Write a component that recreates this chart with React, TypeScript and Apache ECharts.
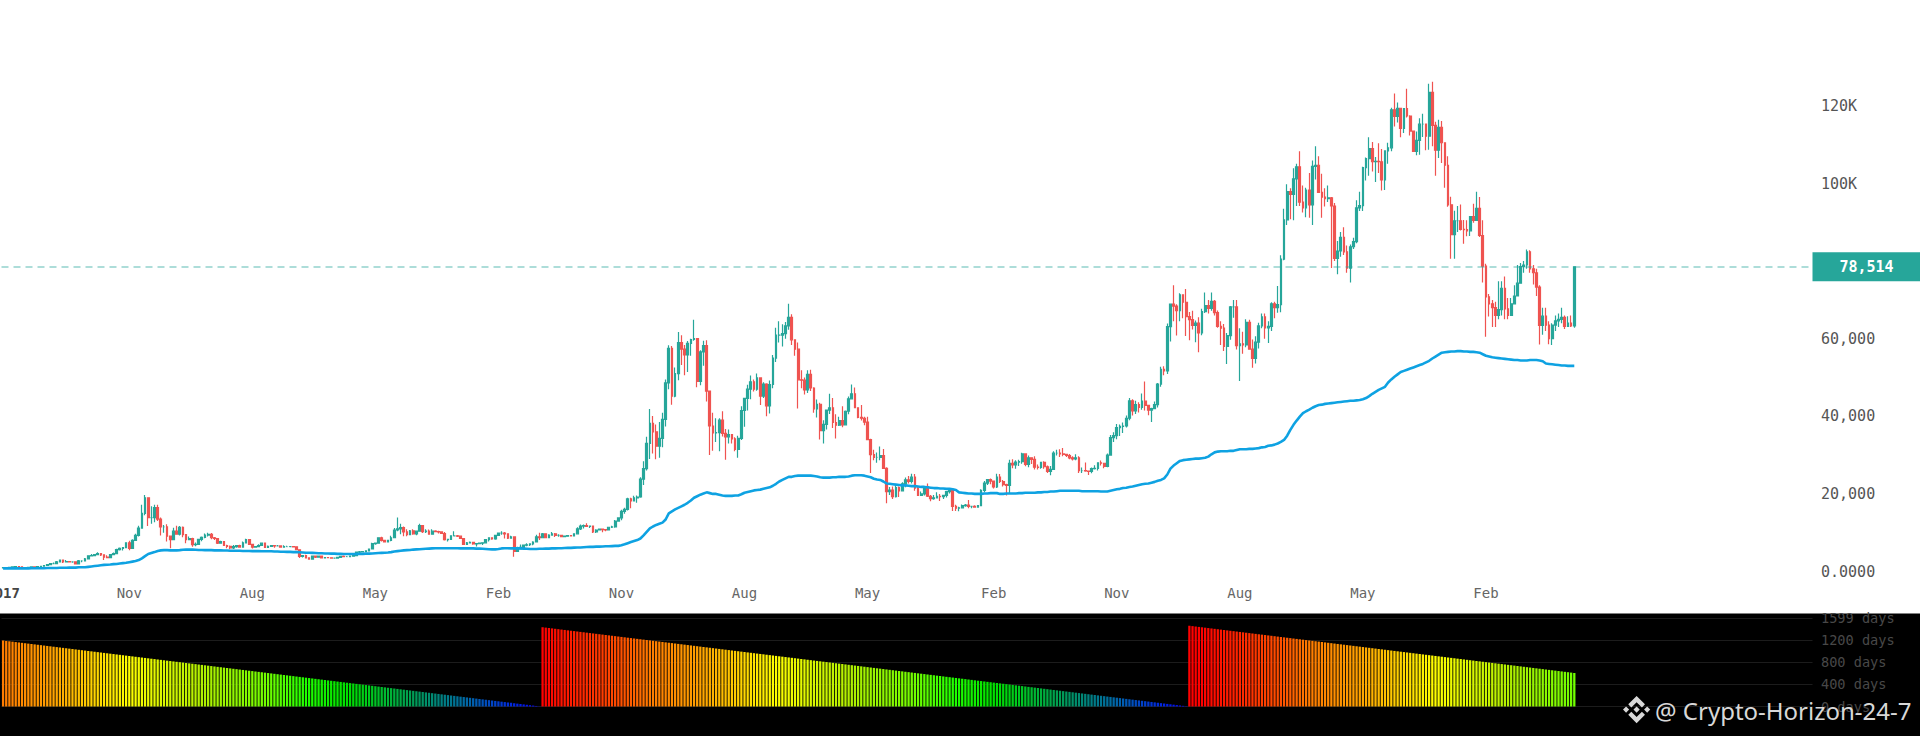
import React, { useEffect, useRef } from "react";
import * as echarts from "echarts";

// Weekly candles, values in thousands of USD.
const firstOpen = 0.96;
const weeklyClose = [
  1.01,1.00,1.05,1.17,1.27,1.23,1.00,0.97,1.07,1.19,
  1.17,1.24,1.35,1.55,1.75,2.05,2.05,2.50,2.95,2.50,
  2.55,2.50,2.50,1.95,2.75,2.75,3.25,4.05,4.10,4.35,
  4.60,4.30,3.70,3.60,4.35,4.60,5.65,5.98,6.15,7.40,
  5.95,8.00,9.30,11.2,15.0,19.0,13.9,13.9,16.5,13.5,
  11.5,11.5,9.10,8.20,10.4,9.60,11.4,9.50,8.20,8.50,
  6.90,7.00,8.30,8.80,9.40,9.60,8.70,8.50,7.30,7.70,
  6.70,6.50,6.10,6.40,6.70,6.30,7.40,8.20,7.00,6.30,
  6.40,6.70,7.30,6.20,6.50,6.70,6.60,6.60,6.30,6.40,
  6.40,6.40,6.35,5.60,3.90,4.10,3.50,3.20,4.00,3.70,
  4.00,3.50,3.60,3.55,3.45,3.45,3.65,3.90,3.85,3.85,
  3.95,4.10,5.00,5.05,5.10,5.30,5.80,7.20,7.30,8.70,
  8.00,7.60,8.00,8.70,10.7,11.0,11.3,10.2,9.50,10.5,
  9.70,10.4,11.8,10.3,10.4,9.60,10.4,10.3,10.2,9.80,
  8.20,8.30,9.20,9.20,9.10,8.50,7.00,7.40,7.50,7.10,
  7.20,7.30,7.40,8.20,8.70,8.40,9.30,9.90,9.90,9.70,
  8.60,8.90,5.20,5.80,6.20,6.80,6.90,7.10,7.60,8.90,
  8.70,9.70,8.70,9.40,9.70,9.30,9.30,9.00,9.10,9.25,
  9.20,9.70,11.0,11.7,11.85,11.6,11.7,10.2,10.7,10.9,
  10.8,10.7,11.4,11.5,13.0,13.8,15.5,16.0,18.7,18.2,
  19.0,19.2,23.8,26.5,33.0,38.2,36.0,32.3,34.3,39.2,
  48.6,57.5,45.2,51.0,59.0,57.3,55.8,58.8,59.8,60.0,
  49.0,56.6,58.2,46.5,37.5,35.7,35.8,39.0,35.6,34.7,
  35.3,34.2,31.5,34.3,41.5,44.6,47.0,48.9,47.0,49.9,
  45.2,48.3,42.7,48.2,55.0,60.9,60.9,61.3,63.3,65.5,
  59.7,57.3,49.4,49.3,46.8,50.8,47.3,41.9,43.1,36.3,
  37.9,41.6,42.2,38.4,37.7,38.9,37.8,41.3,44.5,45.8,
  42.2,39.7,39.5,38.5,34.0,30.1,29.4,29.4,29.9,26.6,
  20.6,21.0,19.3,21.6,20.8,22.6,23.6,23.2,24.3,21.5,
  19.6,20.0,21.8,19.4,18.8,19.0,19.4,19.3,19.6,20.6,
  20.9,16.8,16.3,16.4,17.0,17.1,16.8,16.8,16.6,17.0,
  20.9,22.8,23.7,23.3,21.8,24.3,23.2,22.4,22.2,27.9,
  27.5,28.2,28.3,30.3,27.6,29.3,28.9,26.9,26.8,28.1,
  27.0,25.8,26.3,30.5,30.5,30.3,30.2,29.9,29.3,29.0,
  29.3,26.0,26.0,25.9,25.8,26.5,26.6,28.0,27.9,27.1,
  30.0,34.5,35.0,37.1,37.4,37.5,39.5,44.0,41.4,43.0,
  42.3,43.9,42.8,41.6,42.0,43.0,48.3,52.1,51.7,63.1,
  68.9,68.4,67.2,71.3,69.4,65.7,64.9,63.4,64.0,61.5,
  67.0,68.5,67.8,69.6,66.7,63.2,62.7,58.0,60.8,68.2,
  68.2,58.2,58.7,58.4,64.2,57.3,54.9,59.1,63.3,65.6,
  62.8,63.2,69.0,68.0,68.8,80.5,90.6,97.9,97.2,101.2,
  104.3,95.2,93.7,98.3,94.5,104.4,104.7,97.7,96.5,96.1,
  96.3,94.2,80.7,82.6,86.1,82.4,78.2,83.7,85.0,93.7,
  94.3,104.1,106.4,109.0,105.6,105.7,105.6,100.9,108.4,109.2,
  119.0,117.3,119.4,114.2,119.3,117.4,113.5,108.3,111.1,115.3,
  115.3,112.2,123.5,115.0,108.6,114.5,110.5,104.7,94.5,86.8,
  90.4,90.4,88.2,88.1,87.8,91.5,90.5,93.6,86.6,78.7,
  70.8,69.0,68.0,66.0,67.5,73.0,67.7,66.0,69.0,71.0,
  74.3,78.6,79.0,82.4,78.0,77.0,73.3,63.4,65.8,63.5,
  60.0,63.5,64.6,65.0,65.5,63.2,64.0,63.3,78.514,
];
const weeklyHigh = [
  1.06,1.05,1.06,1.20,1.29,1.35,1.27,1.05,1.10,1.20,
  1.21,1.24,1.35,1.58,1.85,2.10,2.30,2.70,3.00,2.90,
  2.98,2.65,2.60,2.60,2.95,2.90,3.45,4.20,4.50,4.45,
  4.98,4.70,4.40,4.20,4.40,4.90,5.85,6.20,6.25,7.50,
  7.90,8.30,9.75,11.8,17.2,19.7,17.7,16.8,17.2,17.2,
  13.9,12.0,12.2,9.00,11.3,11.8,11.7,11.6,9.30,9.00,
  8.70,7.50,8.40,9.00,9.80,10.0,9.90,8.90,8.60,7.90,
  7.75,6.90,6.70,6.80,6.85,6.90,7.70,8.45,8.40,7.10,
  6.60,7.00,7.40,7.35,6.70,6.80,6.80,6.80,6.60,6.75,
  6.65,6.50,6.40,6.35,5.60,4.20,4.30,3.60,4.10,4.15,
  4.05,4.00,3.70,3.70,3.60,3.50,3.70,3.95,4.10,3.90,
  4.00,4.20,5.10,5.30,5.20,5.50,5.90,7.40,7.40,8.80,
  8.95,8.20,8.10,9.20,11.2,13.9,12.3,11.6,10.9,10.7,
  10.9,10.5,12.3,12.0,10.9,10.8,10.9,10.6,10.5,10.4,
  10.2,8.40,9.30,10.4,9.40,9.20,8.60,7.60,7.70,7.50,
  7.30,7.50,7.50,8.20,8.85,8.80,9.50,9.95,10.4,10.2,
  9.70,9.20,8.00,6.40,6.95,6.90,7.30,7.30,7.80,9.50,
  10.0,9.90,9.85,9.60,10.2,9.90,9.60,9.30,9.30,9.35,
  9.30,9.80,11.4,12.1,12.1,12.45,11.8,11.7,10.9,11.0,
  11.1,10.9,11.5,11.8,13.3,14.0,15.9,16.4,19.0,19.0,
  19.5,19.6,24.3,28.4,34.7,41.9,40.1,37.9,38.5,40.9,
  49.5,58.3,58.1,52.6,61.7,60.9,58.4,59.4,60.0,64.9,
  57.5,57.0,59.5,59.6,45.7,40.9,39.5,39.5,41.3,36.7,
  36.6,35.1,34.6,35.0,42.6,44.8,48.1,50.5,49.5,51.0,
  50.0,48.8,48.5,49.2,55.8,62.8,64.5,63.7,64.3,69.0,
  66.3,59.5,59.0,51.9,50.0,51.9,52.0,47.5,44.3,43.5,
  39.0,41.7,45.8,44.7,40.5,39.9,42.6,41.5,45.1,48.2,
  47.4,41.5,42.9,39.9,39.9,34.2,31.4,30.7,32.2,31.6,
  26.9,21.8,21.9,22.4,21.9,23.0,24.2,24.6,25.2,25.1,
  21.8,20.6,21.9,22.7,19.7,19.7,20.4,20.0,19.7,20.7,
  21.0,21.4,17.2,16.7,17.3,17.4,18.4,16.9,17.1,17.1,
  21.2,23.3,23.8,24.0,23.4,25.2,25.1,23.6,22.6,28.8,
  28.9,28.7,28.8,30.6,30.5,29.9,29.3,29.7,27.6,28.3,
  28.4,27.3,27.2,31.0,31.4,31.5,31.8,30.3,30.3,29.7,
  30.2,29.7,26.8,28.1,26.0,26.8,27.4,28.1,28.6,28.0,
  30.4,35.2,35.9,38.0,37.9,38.4,40.2,44.7,44.4,44.0,
  43.6,45.9,49.0,43.0,42.2,43.8,48.6,52.8,52.9,63.9,
  69.0,73.8,68.9,71.7,71.3,72.8,66.9,67.2,64.7,65.5,
  67.7,71.9,70.0,71.9,70.0,67.3,64.5,63.8,61.5,68.4,
  70.0,70.0,62.7,61.8,65.0,64.9,59.8,60.6,64.1,66.5,
  66.5,64.5,69.4,69.5,73.6,81.5,93.5,99.8,98.8,103.9,
  105.1,108.3,99.5,98.9,102.7,105.9,109.6,107.0,102.5,98.8,
  99.5,96.5,95.0,85.2,87.5,88.7,84.0,84.3,86.0,95.7,
  97.9,104.3,106.7,111.9,110.7,106.8,110.4,108.9,108.5,110.5,
  119.5,123.2,120.9,119.3,119.4,124.4,117.6,113.5,113.4,116.8,
  118.0,113.5,125.7,126.2,115.9,116.4,116.1,107.5,107.0,96.6,
  93.0,94.2,94.6,90.6,90.5,91.5,94.8,97.9,96.5,90.5,
  79.3,71.5,70.0,69.5,74.8,74.8,76.0,70.5,70.5,73.8,
  79.0,79.5,80.0,83.0,82.8,79.0,78.0,73.8,68.0,68.0,
  64.5,64.0,66.0,66.5,68.0,66.0,65.8,66.0,78.7,
];
const weeklyLow = [
  0.96,0.95,0.99,1.04,1.15,1.20,0.97,0.90,0.94,1.05,
  1.13,1.15,1.22,1.32,1.55,1.72,1.85,2.00,2.45,2.20,
  2.40,2.35,2.25,1.83,1.95,2.40,2.70,3.15,3.90,3.98,
  4.30,4.00,2.95,3.45,3.50,4.25,4.55,5.40,5.40,6.00,
  5.50,5.85,7.90,9.00,11.0,14.5,11.7,12.3,12.7,13.0,
  9.30,10.0,7.70,6.00,8.15,9.50,9.30,8.80,7.30,8.10,
  6.40,6.50,6.90,7.80,8.60,9.00,8.30,8.10,7.10,7.15,
  6.60,6.00,5.75,5.80,6.10,6.10,6.20,7.30,7.00,5.90,
  6.20,6.30,6.70,6.15,6.20,6.30,6.10,6.50,6.20,6.25,
  6.35,6.30,6.30,5.55,3.50,3.60,3.40,3.15,3.20,3.50,
  3.65,3.45,3.45,3.40,3.40,3.35,3.40,3.65,3.70,3.75,
  3.80,4.00,4.05,4.80,4.95,5.05,5.30,5.75,6.90,7.30,
  7.75,7.45,7.50,7.80,8.70,10.4,9.60,9.10,9.10,9.50,
  9.50,9.35,10.4,9.90,9.90,9.50,9.60,10.1,9.80,9.70,
  8.00,7.70,8.10,9.10,8.90,8.40,6.80,6.90,7.20,6.90,
  6.45,7.10,6.85,7.30,7.70,8.20,8.20,9.15,9.50,8.50,
  8.40,8.50,3.80,5.00,5.70,5.85,6.50,6.60,6.75,7.50,
  8.10,8.60,8.60,8.80,9.30,8.90,8.95,8.85,8.90,9.05,
  9.00,9.05,9.60,10.7,11.1,11.5,11.2,9.90,9.90,10.7,
  10.1,10.4,10.7,11.2,11.3,12.8,13.2,14.9,15.7,16.3,
  18.2,17.7,19.0,22.3,26.0,29.0,30.4,28.9,29.3,32.0,
  37.4,47.0,43.0,44.9,49.3,53.2,50.6,51.4,55.6,59.5,
  47.5,48.0,53.0,43.8,30.0,31.1,33.4,31.0,34.8,28.8,
  33.0,33.0,31.0,29.3,33.9,37.3,41.5,44.4,46.4,46.6,
  42.9,44.7,40.0,40.7,47.2,54.0,59.0,58.0,60.0,62.3,
  58.4,55.6,42.0,47.2,45.6,46.0,46.5,40.9,39.7,34.0,
  33.0,36.6,40.6,37.0,34.3,37.5,37.2,37.6,40.5,44.9,
  42.2,39.5,38.9,37.7,33.8,25.4,28.7,28.0,28.7,26.6,
  17.6,19.7,18.7,19.1,19.2,20.8,21.7,22.7,22.7,20.8,
  19.5,19.5,19.6,19.2,18.1,18.5,18.9,18.2,18.7,19.1,
  20.1,15.6,15.6,15.5,16.4,16.7,16.3,16.3,16.4,16.5,
  17.3,20.4,22.3,22.5,21.4,21.5,22.8,21.9,19.6,20.2,
  26.6,26.5,27.2,27.8,27.1,26.9,27.7,26.3,26.3,26.5,
  26.5,25.4,24.8,26.2,29.9,29.5,29.7,29.5,28.9,28.6,
  28.7,25.4,25.4,25.7,24.9,25.3,26.3,26.0,27.3,26.6,
  26.9,29.9,33.4,34.1,34.9,35.7,37.1,39.0,40.2,40.6,
  41.0,41.7,41.5,40.3,38.5,41.9,42.3,47.6,50.6,50.9,
  59.3,64.5,60.8,64.5,65.3,60.7,59.6,62.4,59.1,56.5,
  60.9,66.6,66.5,67.2,66.0,62.8,58.4,56.8,53.5,59.7,
  65.4,57.2,49.1,56.1,57.8,57.2,52.5,53.6,57.5,62.7,
  60.0,58.9,62.0,65.3,66.7,66.8,80.2,89.3,90.8,90.5,
  94.2,94.2,92.5,91.3,91.2,89.3,101.0,97.7,91.2,94.1,
  95.2,78.2,80.0,76.6,81.1,81.6,77.0,74.5,83.1,84.6,
  92.9,92.9,100.8,102.0,103.1,100.4,102.7,98.2,98.3,105.1,
  108.3,114.7,115.7,111.9,113.0,117.0,112.4,108.7,107.3,107.4,
  112.0,108.6,108.7,109.6,102.0,106.6,105.3,98.9,94.0,80.6,
  80.6,87.5,87.9,84.5,86.4,86.5,89.9,91.0,86.2,74.5,
  60.5,65.7,63.0,63.0,65.0,66.0,65.0,65.0,67.0,70.0,
  71.5,74.3,77.0,78.0,77.0,74.0,71.0,58.5,61.0,62.0,
  58.6,58.4,62.0,63.0,64.0,62.5,63.0,63.0,62.8,
];
const movingAverage = [
  0.8,0.8,0.8,0.8,0.8,0.8,0.8,0.8,0.8,0.85,
  0.85,0.85,0.85,0.85,0.9,0.9,0.9,0.9,0.95,0.95,
  0.95,1.0,1.0,1.0,1.1,1.1,1.1,1.2,1.3,1.4,
  1.5,1.6,1.7,1.75,1.8,1.9,1.95,2.05,2.15,2.25,
  2.4,2.55,2.7,2.95,3.4,3.95,4.5,4.75,5.0,5.3,
  5.45,5.5,5.5,5.45,5.45,5.45,5.5,5.6,5.65,5.65,
  5.65,5.6,5.55,5.55,5.5,5.5,5.5,5.45,5.45,5.45,
  5.4,5.4,5.35,5.35,5.35,5.35,5.3,5.3,5.3,5.25,
  5.25,5.25,5.2,5.2,5.2,5.2,5.15,5.15,5.1,5.1,
  5.05,5.05,5.0,5.0,4.95,4.9,4.85,4.85,4.8,4.75,
  4.7,4.7,4.65,4.65,4.6,4.6,4.55,4.55,4.5,4.5,
  4.5,4.5,4.5,4.55,4.55,4.6,4.6,4.65,4.7,4.75,
  4.8,4.85,4.9,5.0,5.15,5.25,5.35,5.45,5.5,5.55,
  5.65,5.7,5.75,5.8,5.85,5.9,5.95,6.0,6.0,6.0,
  6.0,6.0,6.0,6.0,6.0,5.95,5.95,5.95,5.95,5.95,
  5.9,5.9,5.85,5.8,5.75,5.7,5.7,5.8,5.95,6.0,
  6.0,5.95,5.95,5.95,5.95,5.9,5.85,5.8,5.8,5.8,
  5.85,5.85,5.9,5.9,5.95,5.95,6.0,6.0,6.05,6.1,
  6.1,6.15,6.2,6.2,6.25,6.3,6.35,6.35,6.4,6.4,
  6.45,6.5,6.5,6.55,6.6,6.6,6.75,7.0,7.3,7.6,
  7.85,8.1,8.5,9.3,10.2,11.1,11.6,12.0,12.3,12.6,
  13.4,15.0,15.5,16.0,16.4,16.8,17.2,17.7,18.3,19.0,
  19.4,19.8,20.1,20.4,20.2,20.0,20.0,19.8,19.6,19.5,
  19.5,19.5,19.6,19.6,19.9,20.3,20.5,20.7,20.9,21.0,
  21.1,21.3,21.5,21.7,22.1,22.6,23.2,23.6,24.0,24.4,
  24.4,24.6,24.7,24.7,24.7,24.7,24.7,24.6,24.5,24.3,
  24.2,24.2,24.2,24.3,24.3,24.4,24.4,24.4,24.5,24.7,
  24.8,24.8,24.8,24.7,24.5,24.3,23.9,23.7,23.6,23.2,
  22.7,22.6,22.5,22.4,22.3,22.2,22.2,22.1,22.0,22.0,
  21.9,21.8,21.8,21.7,21.6,21.5,21.5,21.4,21.4,21.3,
  21.3,21.2,21.0,20.4,20.3,20.2,20.1,20.1,20.0,20.0,
  20.0,20.1,20.1,20.2,20.2,20.2,20.0,20.0,20.1,20.1,
  20.1,20.1,20.2,20.2,20.3,20.3,20.3,20.3,20.4,20.4,
  20.5,20.5,20.6,20.6,20.7,20.8,20.8,20.8,20.8,20.8,
  20.8,20.8,20.7,20.7,20.7,20.7,20.7,20.7,20.6,20.6,
  20.6,20.8,21.0,21.2,21.3,21.5,21.6,21.8,21.9,22.1,
  22.3,22.5,22.6,22.7,22.9,23.1,23.4,23.6,24.0,25.0,
  26.5,27.3,27.9,28.5,28.7,28.8,28.9,29.0,29.1,29.1,
  29.2,29.3,29.6,30.2,30.7,30.9,31.0,31.0,31.0,31.1,
  31.1,31.3,31.5,31.5,31.5,31.6,31.6,31.7,31.8,32.0,
  32.1,32.4,32.5,32.7,33.0,33.4,33.9,35.0,36.5,37.8,
  38.9,39.9,40.8,41.3,41.7,42.2,42.6,42.9,43.0,43.2,
  43.3,43.4,43.5,43.6,43.7,43.8,43.9,44.0,44.0,44.1,
  44.2,44.4,44.7,45.2,45.8,46.3,46.8,47.2,47.6,48.7,
  49.5,50.2,50.8,51.4,51.7,52.0,52.3,52.6,52.9,53.2,
  53.5,53.9,54.3,54.9,55.4,55.9,56.4,56.5,56.6,56.7,
  56.7,56.8,56.8,56.7,56.7,56.6,56.6,56.5,56.4,56.0,
  55.6,55.4,55.2,55.1,55.0,54.9,54.8,54.7,54.6,54.5,
  54.5,54.4,54.4,54.4,54.5,54.5,54.5,54.4,54.2,53.6,
  53.5,53.4,53.3,53.2,53.1,53.1,53.0,53.0,53.0,
];
const daysToHalving = [
  1193,1186,1179,1172,1165,1158,1151,1144,1137,1130,
  1123,1116,1109,1102,1095,1088,1081,1074,1067,1060,
  1053,1046,1039,1032,1025,1018,1011,1004,997,990,
  983,976,969,962,955,948,941,934,927,920,
  913,906,899,892,885,878,871,864,857,850,
  843,836,829,822,815,808,801,794,787,780,
  773,766,759,752,745,738,731,724,717,710,
  703,696,689,682,675,668,661,654,647,640,
  633,626,619,612,605,598,591,584,577,570,
  563,556,549,542,535,528,521,514,507,500,
  493,486,479,472,465,458,451,444,437,430,
  423,416,409,402,395,388,381,374,367,360,
  353,346,339,332,325,318,311,304,297,290,
  283,276,269,262,255,248,241,234,227,220,
  213,206,199,192,185,178,171,164,157,150,
  143,136,129,122,115,108,101,94,87,80,
  73,66,59,52,45,38,31,24,17,10,3,
  1433,1426,1419,1412,1405,1398,1391,1384,1377,1370,
  1363,1356,1349,1342,1335,1328,1321,1314,1307,1300,
  1293,1286,1279,1272,1265,1258,1251,1244,1237,1230,
  1223,1216,1209,1202,1195,1188,1181,1174,1167,1160,
  1153,1146,1139,1132,1125,1118,1111,1104,1097,1090,
  1083,1076,1069,1062,1055,1048,1041,1034,1027,1020,
  1013,1006,999,992,985,978,971,964,957,950,
  943,936,929,922,915,908,901,894,887,880,
  873,866,859,852,845,838,831,824,817,810,
  803,796,789,782,775,768,761,754,747,740,
  733,726,719,712,705,698,691,684,677,670,
  663,656,649,642,635,628,621,614,607,600,
  593,586,579,572,565,558,551,544,537,530,
  523,516,509,502,495,488,481,474,467,460,
  453,446,439,432,425,418,411,404,397,390,
  383,376,369,362,355,348,341,334,327,320,
  313,306,299,292,285,278,271,264,257,250,
  243,236,229,222,215,208,201,194,187,180,
  173,166,159,152,145,138,131,124,117,110,
  103,96,89,82,75,68,61,54,47,40,
  33,26,19,12,5,
  1460,1453,1446,1439,1432,1425,1418,1411,1404,1397,
  1390,1383,1376,1369,1362,1355,1348,1341,1334,1327,
  1320,1313,1306,1299,1292,1285,1278,1271,1264,1257,
  1250,1243,1236,1229,1222,1215,1208,1201,1194,1187,
  1180,1173,1166,1159,1152,1145,1138,1131,1124,1117,
  1110,1103,1096,1089,1082,1075,1068,1061,1054,1047,
  1040,1033,1026,1019,1012,1005,998,991,984,977,
  970,963,956,949,942,935,928,921,914,907,
  900,893,886,879,872,865,858,851,844,837,
  830,823,816,809,802,795,788,781,774,767,
  760,753,746,739,732,725,718,711,704,697,
  690,683,676,669,662,655,648,641,634,627,
  620,613,606,
];

const totalSlots = 574;
const tickIndexes = [0, 40, 79, 118, 157, 196, 235, 274, 314, 353, 392, 431, 470];
const tickLabels = ["2017", "Nov", "Aug", "May", "Feb", "Nov", "Aug", "May", "Feb", "Nov", "Aug", "May", "Feb"];
const priceTicks: Record<number, string> = {
  0: "0.0000", 20000: "20,000", 40000: "40,000", 60000: "60,000", 80000: "", 100000: "100K", 120000: "120K", 140000: "",
};
const dayTicks: Record<number, string> = {
  0: "0 days", 400: "400 days", 800: "800 days", 1200: "1200 days", 1600: "1599 days",
};
const colorStops: [number, number[]][] = [
  [0, [0, 0, 255]], [150, [0, 96, 176]], [290, [0, 160, 80]], [430, [0, 224, 0]],
  [520, [32, 255, 0]], [606, [112, 255, 0]], [750, [176, 240, 0]], [914, [255, 255, 0]],
  [1088, [255, 160, 0]], [1193, [255, 124, 0]], [1257, [255, 80, 0]], [1433, [255, 0, 0]],
];
const UP = "#26a69a";
const DOWN = "#ef5350";
const MONO = "'DejaVu Sans Mono', monospace";
const BINANCE = "M38.73 53.2l24.59-24.58 24.6 24.6 14.3-14.31L63.32 0 24.42 38.9zM0 63.31l14.3-14.31 14.31 14.31-14.31 14.3zM38.73 73.41l24.59 24.59 24.6-24.6 14.31 14.29-38.9 38.91-38.91-38.88zM98 63.31l14.3-14.31 14.31 14.31-14.31 14.3zM77.83 63.3L63.32 48.78 52.59 59.51l-1.24 1.23-2.54 2.54 14.51 14.5 14.51-14.47z";

function dayColor(v: number): string {
  for (let k = 1; k < colorStops.length; k++) {
    if (v <= colorStops[k][0]) {
      const [a, ca] = colorStops[k - 1];
      const [b, cb] = colorStops[k];
      const t = (v - a) / (b - a);
      return `rgb(${ca.map((c, j) => Math.round(c + (cb[j] - c) * t)).join(",")})`;
    }
  }
  return "rgb(255,0,0)";
}

export default function App() {
  const ref = useRef<HTMLDivElement>(null);
  useEffect(() => {
    if (!ref.current) return;
    echarts.graphic.registerShape("binanceLogo", echarts.graphic.extendPath(BINANCE, {}) as any);
    const chart = echarts.init(ref.current, undefined, { renderer: "svg" });
    const categories = Array.from({ length: totalSlots }, (_, i) => String(i));
    const candles = weeklyClose.map((c, i) => {
      const o = i === 0 ? firstOpen : weeklyClose[i - 1];
      return [o * 1000, c * 1000, Math.min(weeklyLow[i], o, c) * 1000, Math.max(weeklyHigh[i], o, c) * 1000];
    });
    const lastPrice = Math.round(weeklyClose[weeklyClose.length - 1] * 1000);
    chart.setOption({
      animation: false,
      backgroundColor: "#ffffff",
      graphic: {
        elements: [
          { type: "rect", z: -10, silent: true, shape: { x: 0, y: 613.5, width: 1920, height: 123 }, style: { fill: "#000000" } },
          { type: "binanceLogo", z: 100, silent: true, x: 1623, y: 696, scaleX: 0.215, scaleY: 0.215, style: { fill: "#d8d8d8" } },
          { type: "text", z: 100, silent: true, x: 1655, y: 710, style: { text: "@ Crypto-Horizon-24-7", fill: "#d8d8d8", fontFamily: "'Noto Sans', sans-serif", fontSize: 24, verticalAlign: "middle", textVerticalAlign: "middle" } },
        ],
      },
      grid: [
        { left: 1.5, width: 1811, top: 28.3, height: 543.2, outerBoundsMode: "none" },
        { left: 1.5, width: 1811, top: 618, height: 88.5, outerBoundsMode: "none" },
      ],
      xAxis: [
        {
          type: "category", gridIndex: 0, data: categories, boundaryGap: true,
          axisLine: { show: false }, axisTick: { show: false }, splitLine: { show: false },
          axisLabel: {
            margin: 14,
            fontFamily: MONO, fontSize: 14, color: "#666666",
            hideOverlap: false,
            interval: (i: number) => tickIndexes.includes(i),
            formatter: (_: string, i: number) => {
              const t = tickLabels[tickIndexes.indexOf(i)] ?? "";
              return i === 0 ? `{b|${t}}` : t;
            },
            rich: { b: { fontFamily: MONO, fontSize: 14, fontWeight: "bold", color: "#444444" } },
          },
        },
        { type: "category", gridIndex: 1, data: categories, boundaryGap: true, show: false },
      ],
      yAxis: [
        {
          type: "value", gridIndex: 0, position: "right", min: 0, max: 140000, interval: 20000,
          axisLine: { show: false }, axisTick: { show: false }, splitLine: { show: false },
          axisLabel: { margin: 8.5, fontFamily: MONO, fontSize: 15, color: "#555555", formatter: (v: number) => priceTicks[v] ?? "" },
        },
        {
          type: "value", gridIndex: 1, position: "right", min: 0, max: 1600, interval: 400,
          axisLine: { show: false }, axisTick: { show: false },
          splitLine: { show: true, lineStyle: { color: "#1c1c1c", width: 1 } },
          axisLabel: { margin: 8.5, fontFamily: MONO, fontSize: 13.6, color: "#484848", formatter: (v: number) => dayTicks[v] ?? "" },
        },
      ],
      series: [
        {
          type: "candlestick", xAxisIndex: 0, yAxisIndex: 0, data: candles, barWidth: 2.2, clip: false,
          itemStyle: { color: UP, color0: DOWN, borderColor: UP, borderColor0: DOWN, borderWidth: 1.2 },
          markLine: {
            silent: true, symbol: "none", animation: false,
            lineStyle: { color: "rgba(38,166,154,0.5)", type: [7, 5], width: 1.5 },
            data: [{ yAxis: lastPrice }],
            label: {
              position: "end", distance: 0,
              formatter: () => `{b|${lastPrice.toLocaleString("en-US")}}`,
              rich: { b: { width: 108, height: 29, lineHeight: 29, align: "center", backgroundColor: UP, color: "#ffffff", fontFamily: MONO, fontSize: 15, fontWeight: "bold" } },
            },
          },
        },
        {
          type: "line", xAxisIndex: 0, yAxisIndex: 0, data: movingAverage.map((v) => v * 1000),
          showSymbol: false, symbol: "none", clip: false, z: 3,
          lineStyle: { color: "#0ea2e2", width: 2.6 },
        },
        {
          type: "bar", xAxisIndex: 1, yAxisIndex: 1, barWidth: 2.3,
          data: daysToHalving.map((v) => ({ value: v, itemStyle: { color: dayColor(v) } })),
        },
      ],
    });
    return () => chart.dispose();
  }, []);
  return <div ref={ref} style={{ position: "fixed", left: 0, top: 0, width: 1920, height: 736 }} />;
}
